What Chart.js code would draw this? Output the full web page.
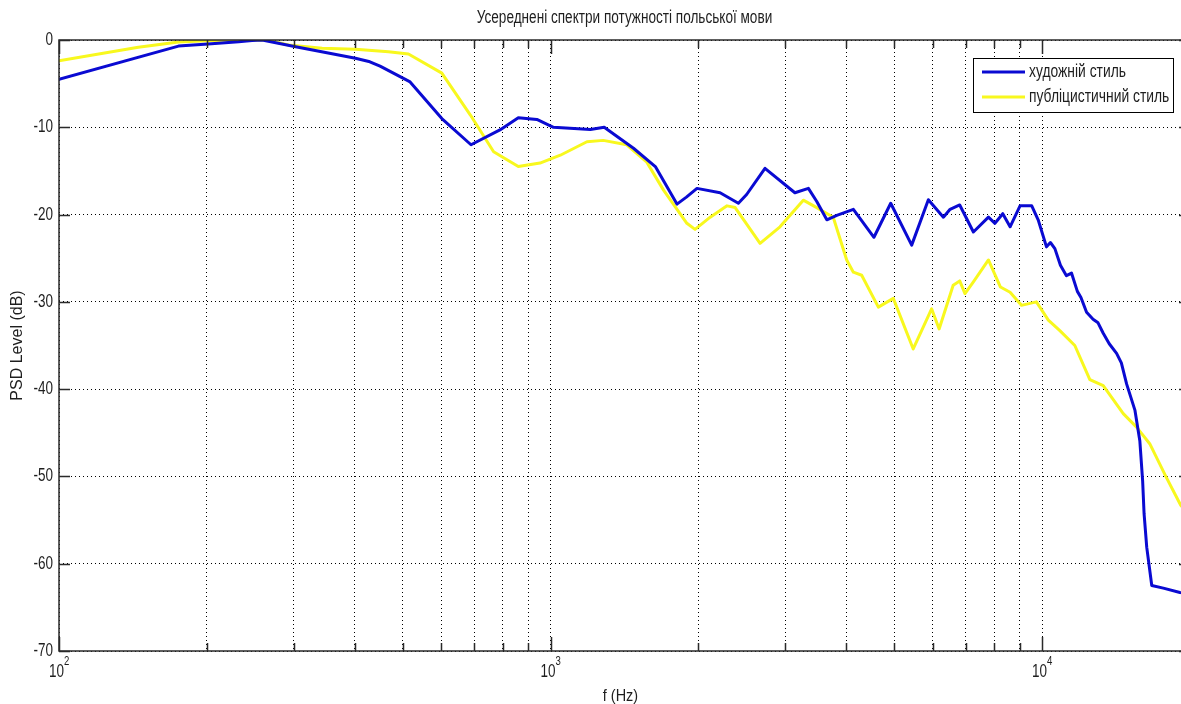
<!DOCTYPE html>
<html>
<head>
<meta charset="utf-8">
<title>Усереднені спектри потужності польської мови</title>
<script src="https://cdn.jsdelivr.net/npm/chart.js@4"></script>
<style>
  html, body { margin: 0; padding: 0; background: #fff; overflow: hidden; }
</style>
</head>
<body>
<canvas id="psd-chart" width="1195" height="704"></canvas>
<script>
const FONT = "'Liberation Sans', Arial, sans-serif";

const chartTitle = "Усереднені спектри потужності польської мови";
const xTitle = "f (Hz)";
const yTitle = "PSD Level (dB)";
const seriesNames = ["художній стиль", "публіцистичний стиль"];

// художній стиль
const artFreq = [100, 175, 201, 232, 247, 259, 303, 401, 429, 450, 518, 601, 689, 789, 860, 938,
  1014, 1205, 1286, 1475, 1634, 1808, 1890, 1986, 2213, 2411, 2506, 2731, 3142, 3347, 3481,
  3649, 3823, 4132, 4550, 4922, 5430, 5871, 6300, 6500, 6800, 7250, 7780, 8020, 8320, 8610,
  9020, 9530, 9820, 10210, 10400, 10620, 10900, 11210, 11480, 11800, 12000, 12320, 12700,
  13000, 13320, 13700, 14180, 14500, 14860, 15450, 15810, 16020, 16130, 16330, 16720,
  17650, 19080, 20000];
const artLevel = [-4.5, -0.7, -0.46, -0.2, -0.05, 0, -0.77, -2.1, -2.5, -3.0, -4.8, -9.0, -12.0,
  -10.3, -8.9, -9.1, -10.0, -10.25, -10.0, -12.4, -14.5, -18.8, -18.0, -17.0, -17.5, -18.7,
  -17.7, -14.7, -17.5, -17.0, -18.5, -20.6, -20.1, -19.4, -22.6, -18.7, -23.5, -18.3, -20.3,
  -19.4, -18.9, -22.0, -20.3, -21.0, -19.9, -21.4, -19.0, -19.0, -20.6, -23.7, -23.2, -23.9,
  -25.8, -27.0, -26.7, -28.8, -29.5, -31.2, -32.0, -32.4, -33.6, -34.8, -35.9, -37.0, -39.4,
  -42.4, -45.9, -50.5, -54.3, -58.1, -62.5, -62.8, -63.3, -63.4];

// публіцистичний стиль
const pubFreq = [100, 145, 175, 205, 265, 293, 343, 401, 468, 514, 601, 687, 766, 860, 952, 1047,
  1186, 1280, 1429, 1570, 1698, 1894, 1968, 2113, 2286, 2375, 2669, 2930, 3268, 3481, 3760,
  4005, 4132, 4296, 4645, 4982, 5469, 5961, 6175, 6595, 6800, 6970, 7250, 7780, 8230, 8610,
  9080, 9740, 10300, 10870, 11660, 12510, 13320, 14630, 15570, 16560, 17900, 19150, 20000];
const pubLevel = [-2.37, -0.84, -0.23, -0.05, 0, -0.57, -0.95, -1.07, -1.34, -1.6, -3.8, -8.6,
  -12.8, -14.5, -14.1, -13.2, -11.66, -11.5, -12.0, -14.0, -17.2, -21.0, -21.7, -20.3, -19.0,
  -19.2, -23.3, -21.4, -18.35, -19.2, -20.3, -25.2, -26.6, -26.95, -30.6, -29.6, -35.4, -30.8,
  -33.1, -28.1, -27.6, -29.05, -27.7, -25.2, -28.3, -28.9, -30.4, -30.0, -32.1, -33.3, -35.0,
  -38.9, -39.6, -42.8, -44.35, -46.25, -50.1, -53.3, -54.5];

const xGridFreqs = [100, 200, 300, 400, 500, 600, 700, 800, 900,
  1000, 2000, 3000, 4000, 5000, 6000, 7000, 8000, 9000, 10000, 20000];
const xMajorTicks = [100, 1000, 10000];
const yTicks = [0, -10, -20, -30, -40, -50, -60, -70];

const blue = "#0a0ad2";
const yellow = "#f8f81e";
const ink = "#1e1e1e";

const toPoints = (xs, ys) => xs.map((x, i) => ({ x: x, y: ys[i] }));

// narrow text: squeeze horizontally like the old Helvetica output
const drawText = (ctx, text, x, y, size, align, squeeze, angle = 0) => {
  ctx.save();
  ctx.font = size + "px " + FONT;
  ctx.fillStyle = ink;
  ctx.textAlign = align;
  ctx.textBaseline = "middle";
  ctx.translate(x, y);
  ctx.rotate(angle);
  ctx.scale(squeeze, 1);
  ctx.fillText(text, 0, 0);
  ctx.restore();
};

// axes box, inner tick marks, labels and the legend box
const matlabAxes = {
  id: "matlabAxes",
  afterDatasetsDraw(chart) {
    const { ctx, chartArea: a, scales } = chart;
    const xs = scales.x;
    const ys = scales.y;
    ctx.save();

    ctx.strokeStyle = "#2a2a2a";
    ctx.lineWidth = 1.5;
    ctx.beginPath();
    xGridFreqs.forEach((f) => {
      const px = Math.round(xs.getPixelForValue(f)) + 0.5;
      const len = xMajorTicks.includes(f) ? 14 : 8;
      ctx.moveTo(px, a.bottom);
      ctx.lineTo(px, a.bottom - len);
      ctx.moveTo(px, a.top);
      ctx.lineTo(px, a.top + len);
    });
    yTicks.forEach((v) => {
      const py = Math.round(ys.getPixelForValue(v)) + 0.5;
      ctx.moveTo(a.left, py);
      ctx.lineTo(a.left + 11, py);
      ctx.moveTo(a.right, py);
      ctx.lineTo(a.right - 11, py);
    });
    ctx.stroke();
    ctx.strokeRect(a.left, a.top, a.right - a.left, a.bottom - a.top);

    // y tick labels
    yTicks.forEach((v) => {
      drawText(ctx, String(v), 53, ys.getPixelForValue(v), 18, "right", 0.75);
    });

    // decade labels 10^n
    xMajorTicks.forEach((f) => {
      const px = xs.getPixelForValue(f);
      const exp = String(Math.round(Math.log10(f)));
      drawText(ctx, "10", px + 5, 672, 18, "right", 0.75);
      drawText(ctx, exp, px + 5, 662, 12, "left", 0.8);
    });

    // titles
    const cx = (a.left + a.right) / 2;
    drawText(ctx, chartTitle, cx, 18, 18, "center", 0.755);
    drawText(ctx, xTitle, cx - 4, 696, 17, "center", 0.85);
    drawText(ctx, yTitle, 18, (a.top + a.bottom) / 2, 16, "center", 1, -Math.PI / 2);

    // legend
    const lx = 973, ly = 58, lw = 200, lh = 54;
    ctx.fillStyle = "#fff";
    ctx.fillRect(lx, ly, lw, lh);
    ctx.strokeStyle = "#000";
    ctx.lineWidth = 1;
    ctx.strokeRect(lx + 0.5, ly + 0.5, lw, lh);
    chart.data.datasets.forEach((ds, i) => {
      const yy = 72 + i * 25;
      ctx.strokeStyle = ds.borderColor;
      ctx.lineWidth = 3;
      ctx.beginPath();
      ctx.moveTo(982, yy);
      ctx.lineTo(1025, yy);
      ctx.stroke();
      drawText(ctx, ds.label, 1029, yy, 18, "left", 0.77);
    });
    ctx.restore();
  },
};

const config = {
  type: "line",
  data: {
    datasets: [
      {
        label: seriesNames[0],
        data: toPoints(artFreq, artLevel),
        borderColor: blue,
        borderWidth: 3,
      },
      {
        label: seriesNames[1],
        data: toPoints(pubFreq, pubLevel),
        borderColor: yellow,
        borderWidth: 3,
      },
    ],
  },
  options: {
    responsive: false,
    animation: false,
    layout: { padding: { top: 40, right: 5, bottom: 0, left: 0 } },
    elements: {
      point: { radius: 0 },
      line: { tension: 0, borderJoinStyle: "round", borderCapStyle: "round" },
    },
    plugins: {
      legend: { display: false },
      tooltip: { enabled: false },
    },
    scales: {
      x: {
        type: "logarithmic",
        min: 100,
        max: 20000,
        afterBuildTicks: (scale) => {
          scale.ticks = xGridFreqs.map((v) => ({ value: v }));
        },
        afterFit: (scale) => {
          scale.height = 53;
        },
        ticks: { display: false },
        grid: { color: "#000", lineWidth: 1, drawTicks: false },
        border: { display: false, dash: [1, 3] },
      },
      y: {
        type: "linear",
        min: -70,
        max: 0,
        afterBuildTicks: (scale) => {
          scale.ticks = yTicks.map((v) => ({ value: v }));
        },
        afterFit: (scale) => {
          scale.width = 59;
        },
        ticks: { display: false },
        grid: { color: "#000", lineWidth: 1, drawTicks: false },
        border: { display: false, dash: [1, 3] },
      },
    },
  },
  plugins: [matlabAxes],
};

const psdChart = new Chart(document.getElementById("psd-chart"), config);
</script>
</body>
</html>
